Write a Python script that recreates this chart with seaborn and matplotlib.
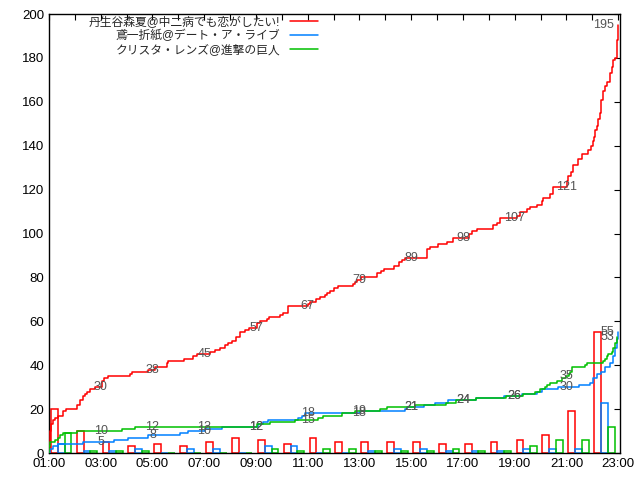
import numpy as np
import pandas as pd
import matplotlib
matplotlib.use('Agg')
import matplotlib.pyplot as plt
import seaborn as sns

# cumulative counts (step points)
red_name = '丹生谷森夏@中二病でも恋がしたい!'
red_times = ['01:00', '01:02', '01:04', '01:09', '01:14', '01:21', '01:32', '01:39', '02:05', '02:12',
             '02:19', '02:23', '02:28', '02:35', '02:47', '03:03', '03:08', '03:17', '04:08', '04:13',
             '04:50', '05:06', '05:34', '05:36', '06:13', '06:34', '06:43', '07:13', '07:25', '07:37',
             '07:48', '07:55', '08:05', '08:14', '08:23', '08:35', '08:44', '09:03', '09:10', '09:26',
             '09:30', '09:56', '10:03', '10:15', '11:01', '11:06', '11:19', '11:29', '11:40', '11:45',
             '11:52', '12:01', '12:10', '12:45', '12:50', '12:55', '13:04', '13:41', '13:50', '13:57',
             '14:20', '14:32', '14:39', '14:46', '15:37', '15:44', '16:01', '16:23', '16:37', '17:14',
             '17:21', '17:33', '18:10', '18:19', '18:26', '19:06', '19:13', '19:29', '19:36', '19:52',
             '20:04', '20:06', '20:22', '20:29', '21:02', '21:04', '21:11', '21:16', '21:27', '21:37',
             '21:50', '21:57', '22:01', '22:04', '22:07', '22:11', '22:14', '22:18', '22:21', '22:25',
             '22:30', '22:35', '22:41', '22:46', '22:48', '22:53', '22:58', '23:00']
red_counts = [0, 10, 13, 15, 16, 17, 19, 20, 22, 24,
              26, 27, 28, 29, 30, 33, 34, 35, 36, 37,
              38, 39, 41, 42, 43, 44, 45, 46, 47, 48,
              49, 50, 51, 53, 55, 56, 57, 59, 60, 61,
              62, 63, 64, 67, 68, 69, 70, 71, 72, 73,
              74, 75, 76, 77, 78, 79, 80, 82, 83, 84,
              85, 87, 88, 89, 93, 94, 95, 96, 98, 100,
              101, 102, 104, 105, 107, 108, 110, 111, 112, 113,
              115, 116, 118, 121, 124, 126, 128, 131, 134, 136,
              138, 140, 142, 144, 147, 149, 152, 155, 161, 165,
              167, 169, 173, 176, 179, 180, 188, 195]

blue_name = '鳶一折紙@デート・ア・ライブ'
blue_times = ['01:00', '01:02', '01:10', '01:20', '02:19', '03:30', '04:03', '04:50', '06:04', '06:22',
              '07:02', '07:41', '09:05', '09:16', '09:28', '10:38', '10:47', '10:54', '13:01', '14:46',
              '14:50', '15:30', '15:55', '16:25', '17:30', '18:35', '19:17', '19:52', '20:04', '20:40',
              '21:30', '21:55', '22:02', '22:11', '22:20', '22:30', '22:41', '22:48', '22:53', '22:57',
              '22:59']
blue_counts = [0, 2, 3, 4, 5, 6, 7, 8, 9, 10,
               11, 12, 13, 14, 15, 16, 17, 18, 19, 20,
               21, 22, 23, 24, 25, 26, 27, 28, 29, 30,
               31, 32, 34, 36, 37, 39, 41, 44, 48, 52,
               55]

green_name = 'クリスタ・レンズ@進撃の巨人'
green_times = ['01:00', '01:01', '01:03', '01:15', '01:22', '01:26', '01:32', '02:05', '03:50', '04:20',
               '09:02', '09:33', '10:30', '11:24', '11:36', '12:20', '12:50', '13:48', '14:04', '15:09',
               '16:20', '16:45', '17:30', '18:40', '19:20', '19:48', '19:58', '20:10', '20:15', '20:22',
               '20:38', '20:50', '20:58', '21:05', '21:09', '21:13', '21:43', '21:48', '22:25', '22:30',
               '22:34', '22:37', '22:45', '22:48', '22:53', '22:58']
green_counts = [0, 3, 5, 6, 7, 8, 9, 10, 11, 12,
                13, 14, 15, 16, 17, 18, 19, 20, 21, 22,
                23, 24, 25, 26, 27, 28, 29, 30, 31, 32,
                33, 34, 35, 36, 37, 39, 40, 41, 42, 43,
                44, 45, 46, 48, 50, 53]

# hourly counts (bars)
bar_hours = ['01:00', '02:00', '03:00', '04:00', '05:00', '06:00', '07:00', '08:00', '09:00', '10:00', '11:00',
             '12:00', '13:00', '14:00', '15:00', '16:00', '17:00', '18:00', '19:00', '20:00', '21:00', '22:00']
red_hourly = [20, 10, 5, 3, 4, 3, 5, 7, 6, 4, 7, 5, 5, 5, 5, 4, 4, 5, 6, 8, 19, 55]
blue_hourly = [4, 1, 1, 2, 0, 2, 2, 0, 3, 3, 0, 0, 1, 2, 2, 1, 1, 1, 2, 2, 2, 23]
green_hourly = [9, 1, 1, 1, 0, 0, 0, 0, 2, 1, 2, 2, 1, 1, 1, 2, 1, 1, 3, 6, 6, 12]

label_times = ['03:00', '05:00', '07:00', '09:00', '11:00', '13:00', '15:00', '17:00', '19:00', '21:00']
tick_labels = ['01:00', '03:00', '05:00', '07:00', '09:00', '11:00', '13:00', '15:00', '17:00', '19:00',
               '21:00', '23:00']


def hrs(s):
    h, m = s.split(':')
    return int(h) + int(m) / 60


sns.set_style('white')
plt.rcParams['font.family'] = ['Liberation Sans', 'Noto Sans CJK JP', 'DejaVu Sans']

fig = plt.figure(figsize=(6.4, 4.8), dpi=100)
ax = fig.add_axes([49 / 640, 27 / 480, 571 / 640, 439 / 480])

series = [
    (red_name, red_times, red_counts, red_hourly, '#ff0000'),
    (blue_name, blue_times, blue_counts, blue_hourly, '#0080ff'),
    (green_name, green_times, green_counts, green_hourly, '#00c000'),
]

for i, (name, times, counts, hourly, color) in enumerate(series):
    df = pd.DataFrame({'t': [hrs(s) for s in times], 'n': counts})
    sns.lineplot(data=df, x='t', y='n', ax=ax, color=color, drawstyle='steps-post',
                 linewidth=1.1, label=name, estimator=None, sort=False, zorder=3)
    bx = [hrs(h) + 0.07 + i * 0.265 for h in bar_hours]
    ax.bar(bx, hourly, width=0.265, align='edge', fill=False, edgecolor=color,
           linewidth=1.1, zorder=2)
    for T in label_times:
        k = np.searchsorted(df['t'].values, hrs(T), side='right') - 1
        v = counts[k]
        ax.text(hrs(T), v, str(v), ha='center', va='center', fontsize=9,
                color='#555555', zorder=5)
    ax.annotate(str(counts[-1]), (hrs('23:00'), counts[-1]), xytext=(-3, 0),
                textcoords='offset points', ha='right', va='center', fontsize=9,
                color='#555555', zorder=5)

ax.set_xlim(1, 23.07)
ax.set_ylim(0, 200)
ax.set_xticks([hrs(s) for s in tick_labels])
ax.set_xticklabels(tick_labels)
ax.set_xticks(range(2, 23, 2), minor=True)
ax.set_yticks(range(0, 201, 20))
ax.tick_params(which='both', direction='in', top=True, right=True, length=4, width=0.8,
               labelsize=9.5, colors='black')
ax.set_xlabel('')
ax.set_ylabel('')
for sp in ax.spines.values():
    sp.set_color('black')
    sp.set_linewidth(1)

ax.legend(loc='upper right', bbox_to_anchor=(0.475, 1.0), markerfirst=False, frameon=False,
          fontsize=8.5, handlelength=2.4, handletextpad=0.8, labelspacing=0.15,
          borderpad=0.2, borderaxespad=0)

fig.savefig('out.png', dpi=100)
